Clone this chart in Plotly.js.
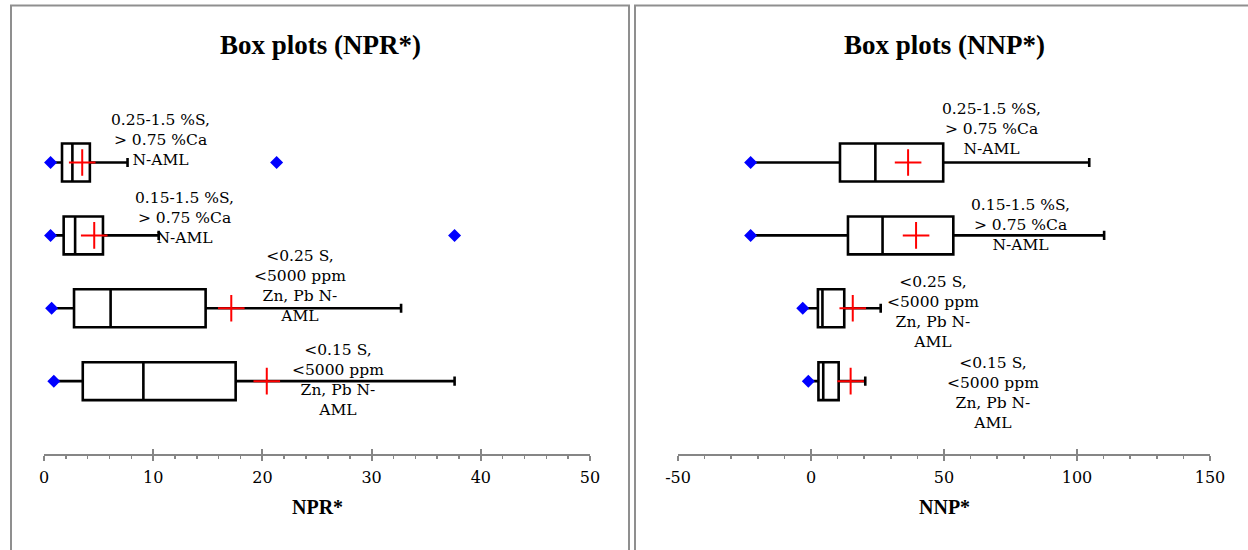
<!DOCTYPE html>
<html>
<head>
<meta charset="utf-8">
<script src="https://cdn.plot.ly/plotly-3.0.1.min.js"></script>
<style>html,body{margin:0;padding:0;background:#fff;}#chart{width:1248px;height:550px;}</style>
</head>
<body>
<div id="chart"></div>
<script>
// ---- data ----
const groupLabels = [
  "0.25-1.5 %S,<br>&gt; 0.75 %Ca<br>N-AML",
  "0.15-1.5 %S,<br>&gt; 0.75 %Ca<br>N-AML",
  "&lt;0.25 S,<br>&lt;5000 ppm<br>Zn, Pb N-<br>AML",
  "&lt;0.15 S,<br>&lt;5000 ppm<br>Zn, Pb N-<br>AML"
];
const groupPos = [4, 3, 2, 1];

// NPR*
const nprMin = [0.6, 0.6, 0.7, 0.9];
const nprQ1 = [1.65, 1.8, 2.75, 3.55];
const nprMedian = [2.6, 2.85, 6.1, 9.1];
const nprQ3 = [4.2, 5.4, 14.8, 17.55];
const nprMean = [3.5, 4.6, 17.15, 20.4];
const nprUpper = [7.65, 10.5, 32.7, 37.6];
const nprOutlierVals = [21.3, 37.6];
const nprOutlierPos = [4, 3];
const nprTickVals = [0, 10, 20, 30, 40, 50];
const nprTickText = ["0", "10", "20", "30", "40", "50"];

// NNP*
const nnpMin = [-22.7, -22.7, -3.1, -1.0];
const nnpQ1 = [10.9, 13.9, 2.6, 2.8];
const nnpMedian = [24.2, 26.9, 4.3, 4.6];
const nnpQ3 = [49.7, 53.5, 12.5, 10.4];
const nnpMean = [36.5, 39.5, 15.7, 14.9];
const nnpUpper = [104.6, 110.2, 26.2, 20.4];
const nnpTickVals = [-50, 0, 50, 100, 150];
const nnpTickText = ["-50", "0", "50", "100", "150"];

// ---- styling / layout constants ----
const W = 1248, H = 550;
const serif = "DejaVu Serif";
const titleFont = "Liberation Serif";
const axisGray = "#868686";
const frameGray = "#8f8f8f";
const px2fx = p => p / W;
const py2fy = p => 1 - p / H;

// label anchor positions (data units) for each panel
const nprLabelAt = [[10.7, 4.31], [12.9, 3.24], [23.4, 2.31], [26.9, 1.02]];
const nnpLabelAt = [[67.9, 4.46], [78.6, 3.14], [45.9, 1.95], [68.4, 0.84]];

function boxTrace(xa, ya, q1, med, q3, lo, hi) {
  return {
    type: 'box', orientation: 'h', xaxis: xa, yaxis: ya,
    y: groupPos, q1: q1, median: med, q3: q3, lowerfence: lo, upperfence: hi,
    width: 0.52, whiskerwidth: 0.24, boxpoints: false,
    line: {color: '#000', width: 2.6}, fillcolor: '#fff',
    hoverinfo: 'skip', showlegend: false
  };
}
function diamondTrace(xa, ya, xs, ys) {
  return {type: 'scatter', mode: 'markers', xaxis: xa, yaxis: ya, x: xs, y: ys,
    marker: {symbol: 'diamond', size: 10, color: '#0000FF'}, hoverinfo: 'skip', showlegend: false};
}
function meanTrace(xa, ya, xs) {
  return {type: 'scatter', mode: 'markers', xaxis: xa, yaxis: ya, x: xs, y: groupPos,
    marker: {symbol: 'cross-thin', size: 19, color: '#FF0000', line: {color: '#FF0000', width: 2}},
    hoverinfo: 'skip', showlegend: false};
}

const traces = [
  boxTrace('x', 'y', nprQ1, nprMedian, nprQ3, nprMin, nprUpper),
  diamondTrace('x', 'y', nprMin.concat(nprOutlierVals), groupPos.concat(nprOutlierPos)),
  meanTrace('x', 'y', nprMean),
  boxTrace('x2', 'y2', nnpQ1, nnpMedian, nnpQ3, nnpMin, nnpUpper),
  diamondTrace('x2', 'y2', nnpMin, groupPos),
  meanTrace('x2', 'y2', nnpMean),
  {type: 'scatter', x: [], y: [], xaxis: 'x3', yaxis: 'y', showlegend: false, hoverinfo: 'skip'},
  {type: 'scatter', x: [], y: [], xaxis: 'x4', yaxis: 'y2', showlegend: false, hoverinfo: 'skip'}
];

const yDomain = [py2fy(454), py2fy(454 - 5 * 72.87)];
const tickFont = {family: serif, size: 16, color: '#000'};

function xAxis(domain, range, tv, tt, mdtick, anchor) {
  return {
    domain: domain, range: range, anchor: anchor, tickmode: 'array', tickvals: tv, ticktext: tt,
    showline: true, linecolor: axisGray, linewidth: 2,
    ticks: 'outside', ticklen: 5, tickwidth: 2, tickcolor: axisGray,
    minor: {tickmode: 'linear', tick0: 0, dtick: mdtick, ticks: 'outside', ticklen: 3, tickwidth: 1.5, tickcolor: axisGray, showgrid: false},
    showgrid: false, zeroline: false, tickfont: tickFont, ticklabelstandoff: 3,
    fixedrange: true
  };
}
function overAxis(over, range, tv, anchor) {
  return {overlaying: over, range: range, anchor: anchor, tickmode: 'array', tickvals: tv,
    showline: false, ticks: 'inside', ticklen: 5, tickwidth: 2, tickcolor: axisGray,
    showticklabels: false, showgrid: false, zeroline: false, fixedrange: true};
}

const annotations = [];
function addLabels(xref, yref, at) {
  groupLabels.forEach((t, i) => {
    annotations.push({xref: xref, yref: yref, x: at[i][0], y: at[i][1], text: t,
      showarrow: false, xanchor: 'center', yanchor: 'middle', align: 'center',
      font: {family: serif, size: 15.5, color: '#000'}});
  });
}
addLabels('x', 'y', nprLabelAt);
addLabels('x2', 'y2', nnpLabelAt);
annotations.push(
  {xref: 'paper', yref: 'paper', x: px2fx(320), y: py2fy(45), text: '<b>Box plots (NPR*)</b>', showarrow: false,
   xanchor: 'center', yanchor: 'middle', font: {family: titleFont, size: 27, color: '#000'}},
  {xref: 'paper', yref: 'paper', x: px2fx(944), y: py2fy(45), text: '<b>Box plots (NNP*)</b>', showarrow: false,
   xanchor: 'center', yanchor: 'middle', font: {family: titleFont, size: 27, color: '#000'}},
  {xref: 'paper', yref: 'paper', x: px2fx(317), y: py2fy(507), text: '<b>NPR*</b>', showarrow: false,
   xanchor: 'center', yanchor: 'middle', font: {family: titleFont, size: 20, color: '#000'}},
  {xref: 'paper', yref: 'paper', x: px2fx(944), y: py2fy(507), text: '<b>NNP*</b>', showarrow: false,
   xanchor: 'center', yanchor: 'middle', font: {family: titleFont, size: 20, color: '#000'}}
);

const layout = {
  width: W, height: H, margin: {l: 0, r: 0, t: 0, b: 0, pad: 0},
  paper_bgcolor: '#fff', plot_bgcolor: 'rgba(0,0,0,0)', showlegend: false,
  xaxis: xAxis([px2fx(44), px2fx(590)], [0, 50], nprTickVals, nprTickText, 2, 'y'),
  xaxis2: xAxis([px2fx(678), px2fx(1210)], [-50, 150], nnpTickVals, nnpTickText, 10, 'y2'),
  xaxis3: overAxis('x', [0, 50], nprTickVals, 'y'),
  xaxis4: overAxis('x2', [-50, 150], nnpTickVals, 'y2'),
  yaxis: {domain: yDomain, range: [0, 5], visible: false, fixedrange: true, anchor: 'x'},
  yaxis2: {domain: yDomain, range: [0, 5], visible: false, fixedrange: true, anchor: 'x2'},
  shapes: [
    {type: 'rect', xref: 'paper', yref: 'paper', x0: px2fx(11), x1: px2fx(629), y0: -0.2, y1: py2fy(5.5),
     line: {color: frameGray, width: 2}, fillcolor: 'rgba(0,0,0,0)', layer: 'below'},
    {type: 'rect', xref: 'paper', yref: 'paper', x0: px2fx(635), x1: 1.2, y0: -0.2, y1: py2fy(5.5),
     line: {color: frameGray, width: 2}, fillcolor: 'rgba(0,0,0,0)', layer: 'below'}
  ],
  annotations: annotations
};

Plotly.newPlot('chart', traces, layout, {staticPlot: true, displayModeBar: false});
</script>
</body>
</html>
